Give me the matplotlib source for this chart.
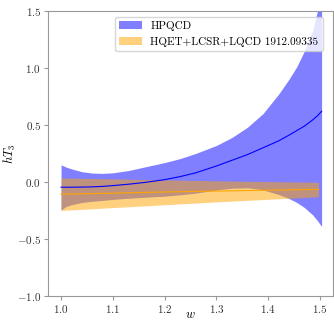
import matplotlib
matplotlib.use('Agg')
import matplotlib.pyplot as plt

plt.rcParams['font.family'] = 'serif'
plt.rcParams['font.serif'] = ['cmr10']
plt.rcParams['mathtext.fontset'] = 'cm'
plt.rcParams['axes.formatter.use_mathtext'] = True
plt.rcParams['font.size'] = 8

# HPQCD band
w_hpqcd = [1.0, 1.01, 1.02, 1.04, 1.06, 1.08, 1.1, 1.13, 1.16, 1.2, 1.23, 1.26,
           1.3, 1.33, 1.36, 1.38, 1.39, 1.42, 1.44, 1.455, 1.47, 1.486, 1.495, 1.503]
hpqcd_mid = [-0.046, -0.046, -0.046, -0.045, -0.043, -0.039, -0.032, -0.02, -0.005,
             0.02, 0.047, 0.08, 0.14, 0.19, 0.24, 0.28, 0.3, 0.36, 0.41, 0.45,
             0.49, 0.545, 0.58, 0.62]
hpqcd_hi = [0.15, 0.13, 0.115, 0.09, 0.078, 0.075, 0.08, 0.1, 0.13, 0.17, 0.205,
            0.25, 0.32, 0.39, 0.48, 0.56, 0.6, 0.77, 0.9, 1.01, 1.15, 1.33, 1.5, 1.65]
hpqcd_lo = [-0.245, -0.215, -0.2, -0.18, -0.17, -0.162, -0.153, -0.143, -0.135,
            -0.125, -0.113, -0.098, -0.07, -0.055, -0.052, -0.062, -0.07, -0.11,
            -0.145, -0.18, -0.225, -0.29, -0.34, -0.39]

# HQET+LCSR+LQCD 1912.09335 band
w_lit = [1.0, 1.1, 1.2, 1.3, 1.4, 1.497]
lit_mid = [-0.108, -0.098, -0.088, -0.08, -0.072, -0.065]
lit_hi = [0.035, 0.027, 0.018, 0.01, 0.003, -0.003]
lit_lo = [-0.25, -0.225, -0.2, -0.175, -0.152, -0.13]

fig = plt.figure(figsize=(3.34, 3.2), dpi=100)
ax = fig.add_axes([0.144, 0.075, 0.853, 0.891])

ax.fill_between(w_hpqcd, hpqcd_lo, hpqcd_hi, color='blue', alpha=0.5,
                linewidth=0, label='HPQCD')
ax.fill_between(w_lit, lit_lo, lit_hi, color='orange', alpha=0.5,
                linewidth=0, label='HQET+LCSR+LQCD 1912.09335')
ax.plot(w_hpqcd, hpqcd_mid, color='blue', linewidth=0.8)
ax.plot(w_lit, lit_mid, color='orange', linewidth=0.8)

ax.set_xlim(0.975, 1.525)
ax.set_ylim(-1.0, 1.5)
ax.set_xticks([1.0, 1.1, 1.2, 1.3, 1.4, 1.5])
ax.set_yticks([-1.0, -0.5, 0.0, 0.5, 1.0, 1.5])
ax.set_xlabel('$w$', fontsize=9)
ax.set_ylabel('$hT_3$', fontsize=9)
# pull the axis labels in so they stay on the canvas
ax.xaxis.set_label_coords(0.5, -0.045)
ax.yaxis.set_label_coords(-0.105, 0.5)

for s in ax.spines.values():
    s.set_color('#999999')
ax.tick_params(color='#999999', length=3, pad=2, labelcolor='#333333')

ax.legend(loc='upper right', fontsize=8, framealpha=0.8,
          bbox_to_anchor=(0.965, 0.98), borderaxespad=0)

fig.savefig('out.png', dpi=100)
